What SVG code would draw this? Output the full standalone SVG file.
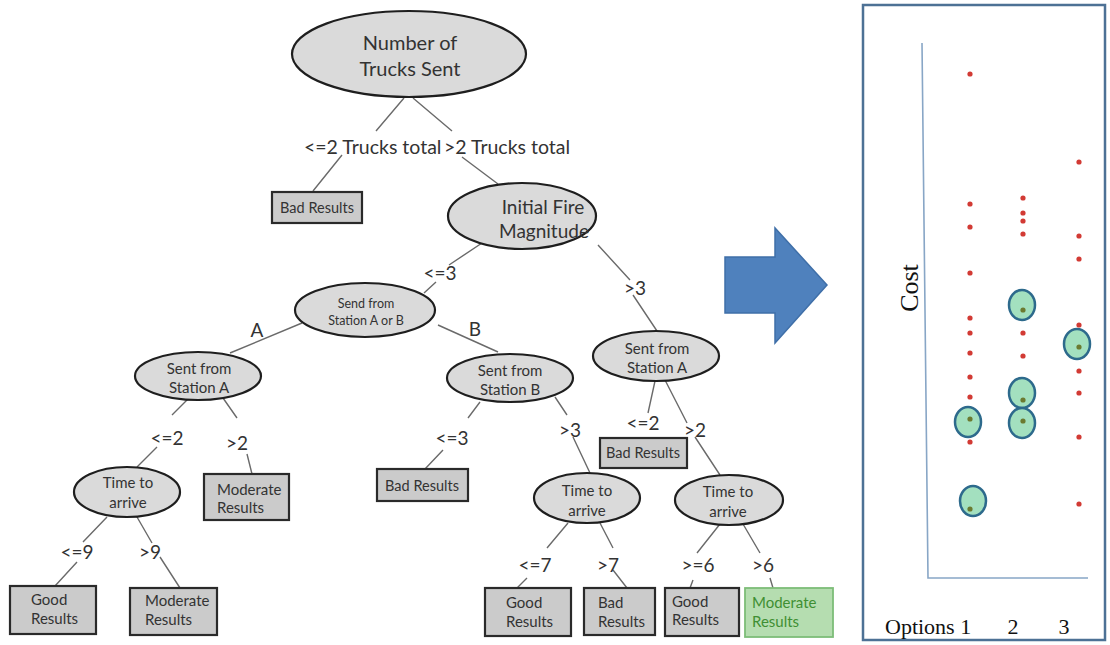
<svg xmlns="http://www.w3.org/2000/svg" width="1110" height="645" viewBox="0 0 1110 645">
<style>
.ell{fill:#dadada;stroke:#1e1e1e;stroke-width:2.2}
.box{fill:#cbcbcb;stroke:#2a2a2a;stroke-width:2.2}
.gbox{fill:#b5ddb0;stroke:#7dbd78;stroke-width:1.8}
.t{font-family:Lato,"Open Sans",sans-serif;fill:#333;text-anchor:middle}
.tl{font-family:Lato,"Open Sans",sans-serif;fill:#333}
.g{fill:#3f8f33}
.lbl{font-family:Lato,"Open Sans",sans-serif;fill:#333;font-size:19px;text-anchor:middle}
.edge{stroke:#6a6a6a;stroke-width:1.4;fill:none}
.dot{fill:#d23a34}
.sel{fill:#a3e0bf;stroke:#2d6a8c;stroke-width:2.5}
.dd{fill:#6b7a30}
.serif{font-family:"Liberation Serif",serif;fill:#111}
</style>

<g id="connectors">
<path class="edge" d="M404,98L376,131M342,155L313,191"/>
<path class="edge" d="M413,98L452,131M462,157L498,184"/>
<path class="edge" d="M482,243L449,265M436,282L424,293"/>
<path class="edge" d="M598,245L630,280M633,295L657,331"/>
<path class="edge" d="M302,323L230,353"/>
<path class="edge" d="M438,325L498,352"/>
<path class="edge" d="M192,395L172,415M157,447L137,467"/>
<path class="edge" d="M223,398L237,418M247,454L252,474"/>
<path class="edge" d="M480,402L468,418M443,450L425,469"/>
<path class="edge" d="M555,397L567,415M573,437L590,473"/>
<path class="edge" d="M655,381L648,413"/>
<path class="edge" d="M665,380L687,423M695,437L720,475"/>
<path class="edge" d="M107,517L83,542M77,562L55,586"/>
<path class="edge" d="M137,517L152,543M160,557L180,588"/>
<path class="edge" d="M568,523L547,548M527,578L517,588"/>
<path class="edge" d="M600,523L613,548M613,570L627,588"/>
<path class="edge" d="M720,524L697,553M693,580L690,588"/>
<path class="edge" d="M743,524L760,553M770,578L773,588"/>
</g>

<g id="edge-labels">
<text class="tl" x="304" y="154" font-size="19.5">&lt;=2 Trucks total</text>
<text class="tl" x="444" y="154" font-size="19.5">&gt;2 Trucks total</text>
<text class="lbl" x="440" y="280">&lt;=3</text>
<text class="lbl" x="635" y="295">&gt;3</text>
<text class="lbl" x="257" y="337" font-size="17">A</text>
<text class="lbl" x="475" y="336" font-size="17">B</text>
<text class="lbl" x="167" y="445">&lt;=2</text>
<text class="lbl" x="237" y="450">&gt;2</text>
<text class="lbl" x="452" y="445">&lt;=3</text>
<text class="lbl" x="570" y="437">&gt;3</text>
<text class="lbl" x="643" y="430">&lt;=2</text>
<text class="lbl" x="695" y="437">&gt;2</text>
<text class="lbl" x="77" y="559">&lt;=9</text>
<text class="lbl" x="150" y="559">&gt;9</text>
<text class="lbl" x="535" y="572">&lt;=7</text>
<text class="lbl" x="608" y="572">&gt;7</text>
<text class="lbl" x="698" y="572">&gt;=6</text>
<text class="lbl" x="763" y="572">&gt;6</text>
</g>

<g id="n-root">
<ellipse class="ell" cx="409" cy="54" rx="117" ry="43"/>
<text class="t" x="410" y="50" font-size="20">Number of</text>
<text class="t" x="410" y="76" font-size="20">Trucks Sent</text>
</g>
<g id="n-bad1">
<rect class="box" x="272" y="192" width="90" height="31"/>
<text class="t" x="317" y="213" font-size="14.5">Bad Results</text>
</g>
<g id="n-fire">
<ellipse class="ell" cx="522" cy="216" rx="74" ry="33"/>
<text class="t" x="543" y="214" font-size="19">Initial Fire</text>
<text class="t" x="544" y="238" font-size="19">Magnitude</text>
</g>
<g id="n-send">
<ellipse class="ell" cx="365" cy="310" rx="70" ry="27"/>
<text class="t" x="366" y="308" font-size="12.5">Send from</text>
<text class="t" x="366" y="325" font-size="12.5">Station A or B</text>
</g>
<g id="n-sentA1">
<ellipse class="ell" cx="198" cy="376" rx="63" ry="24"/>
<text class="t" x="199" y="374" font-size="15">Sent from</text>
<text class="t" x="199" y="393" font-size="15">Station A</text>
</g>
<g id="n-sentB">
<ellipse class="ell" cx="510" cy="378" rx="63" ry="24"/>
<text class="t" x="510" y="376" font-size="15">Sent from</text>
<text class="t" x="510" y="395" font-size="15">Station B</text>
</g>
<g id="n-sentA2">
<ellipse class="ell" cx="656" cy="356" rx="63" ry="25"/>
<text class="t" x="657" y="354" font-size="15">Sent from</text>
<text class="t" x="657" y="373" font-size="15">Station A</text>
</g>
<g id="n-time1">
<ellipse class="ell" cx="127" cy="492" rx="53" ry="25"/>
<text class="t" x="128" y="488" font-size="15">Time to</text>
<text class="t" x="128" y="508" font-size="15">arrive</text>
</g>
<g id="n-mod1">
<rect class="box" x="204" y="474" width="85" height="46"/>
<text class="tl" x="217" y="495" font-size="15">Moderate</text>
<text class="tl" x="217" y="513" font-size="15">Results</text>
</g>
<g id="n-bad2">
<rect class="box" x="377" y="469" width="91" height="32"/>
<text class="t" x="422" y="491" font-size="14.5">Bad Results</text>
</g>
<g id="n-time2">
<ellipse class="ell" cx="587" cy="498" rx="53" ry="25"/>
<text class="t" x="587" y="496" font-size="15">Time to</text>
<text class="t" x="587" y="516" font-size="15">arrive</text>
</g>
<g id="n-bad3">
<rect class="box" x="600" y="438" width="87" height="30"/>
<text class="t" x="643" y="458" font-size="14.5">Bad Results</text>
</g>
<g id="n-time3">
<ellipse class="ell" cx="729" cy="500" rx="54" ry="25"/>
<text class="t" x="728" y="497" font-size="15">Time to</text>
<text class="t" x="728" y="517" font-size="15">arrive</text>
</g>
<g id="n-good1">
<rect class="box" x="10" y="586" width="86" height="48"/>
<text class="tl" x="31" y="605" font-size="15">Good</text>
<text class="tl" x="31" y="624" font-size="15">Results</text>
</g>
<g id="n-mod2">
<rect class="box" x="130" y="588" width="87" height="47"/>
<text class="tl" x="145" y="606" font-size="15">Moderate</text>
<text class="tl" x="145" y="625" font-size="15">Results</text>
</g>
<g id="n-good2">
<rect class="box" x="485" y="588" width="86" height="48"/>
<text class="tl" x="506" y="608" font-size="15">Good</text>
<text class="tl" x="506" y="627" font-size="15">Results</text>
</g>
<g id="n-bad4">
<rect class="box" x="584" y="588" width="71" height="47"/>
<text class="tl" x="598" y="608" font-size="15">Bad</text>
<text class="tl" x="598" y="627" font-size="15">Results</text>
</g>
<g id="n-good3">
<rect class="box" x="665" y="588" width="74" height="48"/>
<text class="tl" x="672" y="607" font-size="15">Good</text>
<text class="tl" x="672" y="625" font-size="15">Results</text>
</g>
<g id="n-mod3">
<rect class="gbox" x="745" y="588" width="88" height="49"/>
<text class="tl g" x="752" y="608" font-size="15">Moderate</text>
<text class="tl g" x="752" y="627" font-size="15">Results</text>
</g>

<g id="big-arrow">
<polygon points="725,257 775,257 775,228 827,285 775,343 775,313 725,313" fill="#4f81bd" stroke="#3f6fa8" stroke-width="1.5"/>
</g>

<g id="chart">
<rect x="863" y="5" width="242" height="635" fill="#fff" stroke="#4d7195" stroke-width="2.5"/>
<polyline points="922,43 928,578 1088,578" fill="none" stroke="#88a6c6" stroke-width="1.6"/>
<text class="serif" font-size="26" transform="translate(918,288) rotate(-90)" text-anchor="middle">Cost</text>
<text class="serif" x="885" y="634" font-size="22">Options 1</text>
<text class="serif" x="1013" y="634" font-size="22" text-anchor="middle">2</text>
<text class="serif" x="1064" y="634" font-size="22" text-anchor="middle">3</text>
<g id="highlight">
<ellipse class="sel" cx="968" cy="422" rx="13" ry="15"/>
<ellipse class="sel" cx="973" cy="501" rx="13" ry="15"/>
<ellipse class="sel" cx="1022" cy="305" rx="13" ry="15"/>
<ellipse class="sel" cx="1022" cy="393" rx="13" ry="15"/>
<ellipse class="sel" cx="1022" cy="423" rx="13" ry="15"/>
<ellipse class="sel" cx="1077" cy="344" rx="13" ry="15"/>
</g>
<g id="dots">
<circle class="dot" cx="970" cy="74" r="2.6"/>
<circle class="dot" cx="970" cy="204" r="2.6"/>
<circle class="dot" cx="970" cy="227" r="2.6"/>
<circle class="dot" cx="970" cy="273" r="2.6"/>
<circle class="dot" cx="970" cy="318" r="2.6"/>
<circle class="dot" cx="970" cy="333" r="2.6"/>
<circle class="dot" cx="970" cy="353" r="2.6"/>
<circle class="dot" cx="970" cy="377" r="2.6"/>
<circle class="dot" cx="970" cy="397" r="2.6"/>
<circle class="dot" cx="970" cy="442" r="2.6"/>
<circle class="dot" cx="1023" cy="198" r="2.6"/>
<circle class="dot" cx="1023" cy="213" r="2.6"/>
<circle class="dot" cx="1023" cy="221" r="2.6"/>
<circle class="dot" cx="1023" cy="234" r="2.6"/>
<circle class="dot" cx="1023" cy="333" r="2.6"/>
<circle class="dot" cx="1023" cy="356" r="2.6"/>
<circle class="dot" cx="1079" cy="162" r="2.6"/>
<circle class="dot" cx="1079" cy="236" r="2.6"/>
<circle class="dot" cx="1079" cy="259" r="2.6"/>
<circle class="dot" cx="1079" cy="325" r="2.6"/>
<circle class="dot" cx="1079" cy="371" r="2.6"/>
<circle class="dot" cx="1079" cy="393" r="2.6"/>
<circle class="dot" cx="1079" cy="437" r="2.6"/>
<circle class="dot" cx="1079" cy="504" r="2.6"/>
<circle class="dd" cx="970" cy="419" r="2.6"/>
<circle class="dd" cx="970" cy="509" r="2.6"/>
<circle class="dd" cx="1023" cy="310" r="2.6"/>
<circle class="dd" cx="1023" cy="400" r="2.6"/>
<circle class="dd" cx="1023" cy="421" r="2.6"/>
<circle class="dd" cx="1079" cy="347" r="2.6"/>
</g>
</g>
</svg>
